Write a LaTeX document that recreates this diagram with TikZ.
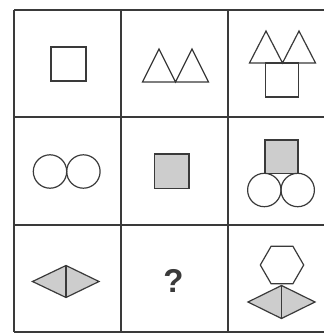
\documentclass[tikz,border=0pt]{standalone}
\usepackage{fontspec}
\setsansfont{Liberation Sans}
\usepackage{tikz}
\usetikzlibrary{calc}
\definecolor{inkgray}{HTML}{3A3A3A}
\definecolor{shadegray}{HTML}{CDCDCD}

\begin{document}
\begin{tikzpicture}[x=1pt, y=-1pt]
\tikzset{gridline/.style={draw=inkgray, line width=1.5pt}}
\tikzset{figline/.style={draw=inkgray, line width=1.2pt, line join=miter}}
\tikzset{figfill/.style={figline, fill=shadegray}}
\useasboundingbox (0,0) rectangle (324,334);
\fill[white] (0,0) rectangle (324,334);
% grid
\foreach \gx in {14,121,228} \draw[gridline] (\gx,10) -- (\gx,332);
\foreach \gy in {10,117,225,332} \draw[gridline] (14,\gy) -- (324,\gy);
% row 1
\draw[figline] (51,47) rectangle (86,81);
\draw[figline] (142.5,82) -- (159,49) -- (175.5,82) -- (192,49) -- (208.5,82) -- cycle;
\draw[figline] (249.5,63) -- (266,31) -- (282.5,63) -- (299,31) -- (315.5,63) -- cycle;
\draw[figline] (265.5,63) rectangle (298.5,97);
% row 2
\draw[figline] (50,171.5) circle[radius=16.7pt];
\draw[figline] (83.4,171.5) circle[radius=16.7pt];
\draw[figfill] (154.5,154) rectangle (189,188.5);
\draw[figfill] (265,140) rectangle (298,173.3);
\draw[figline] (264.3,190) circle[radius=16.7pt];
\draw[figline] (297.7,190) circle[radius=16.7pt];
% row 3
\draw[figfill] (32.5,281.5) -- (66,265.5) -- (99,281.5) -- (66,297.5) -- cycle;
\draw[figline] (66,265.5) -- (66,297.5);
\node[text=inkgray, font=\fontsize{33}{33}\selectfont\sffamily\bfseries] (quest) at (173.5,280.5) {?};
\coordinate (hexc) at (282,265);
\draw[figline] (hexc) +(0:21.7pt) -- +(60:21.7pt) -- +(120:21.7pt) -- +(180:21.7pt) -- +(240:21.7pt) -- +(300:21.7pt) -- cycle;
\draw[figfill] (248,302) -- (281.5,285.5) -- (315,302) -- (281.5,318.5) -- cycle;
\draw[figline] (281.5,285.5) -- (281.5,318.5);
\end{tikzpicture}
\end{document}
